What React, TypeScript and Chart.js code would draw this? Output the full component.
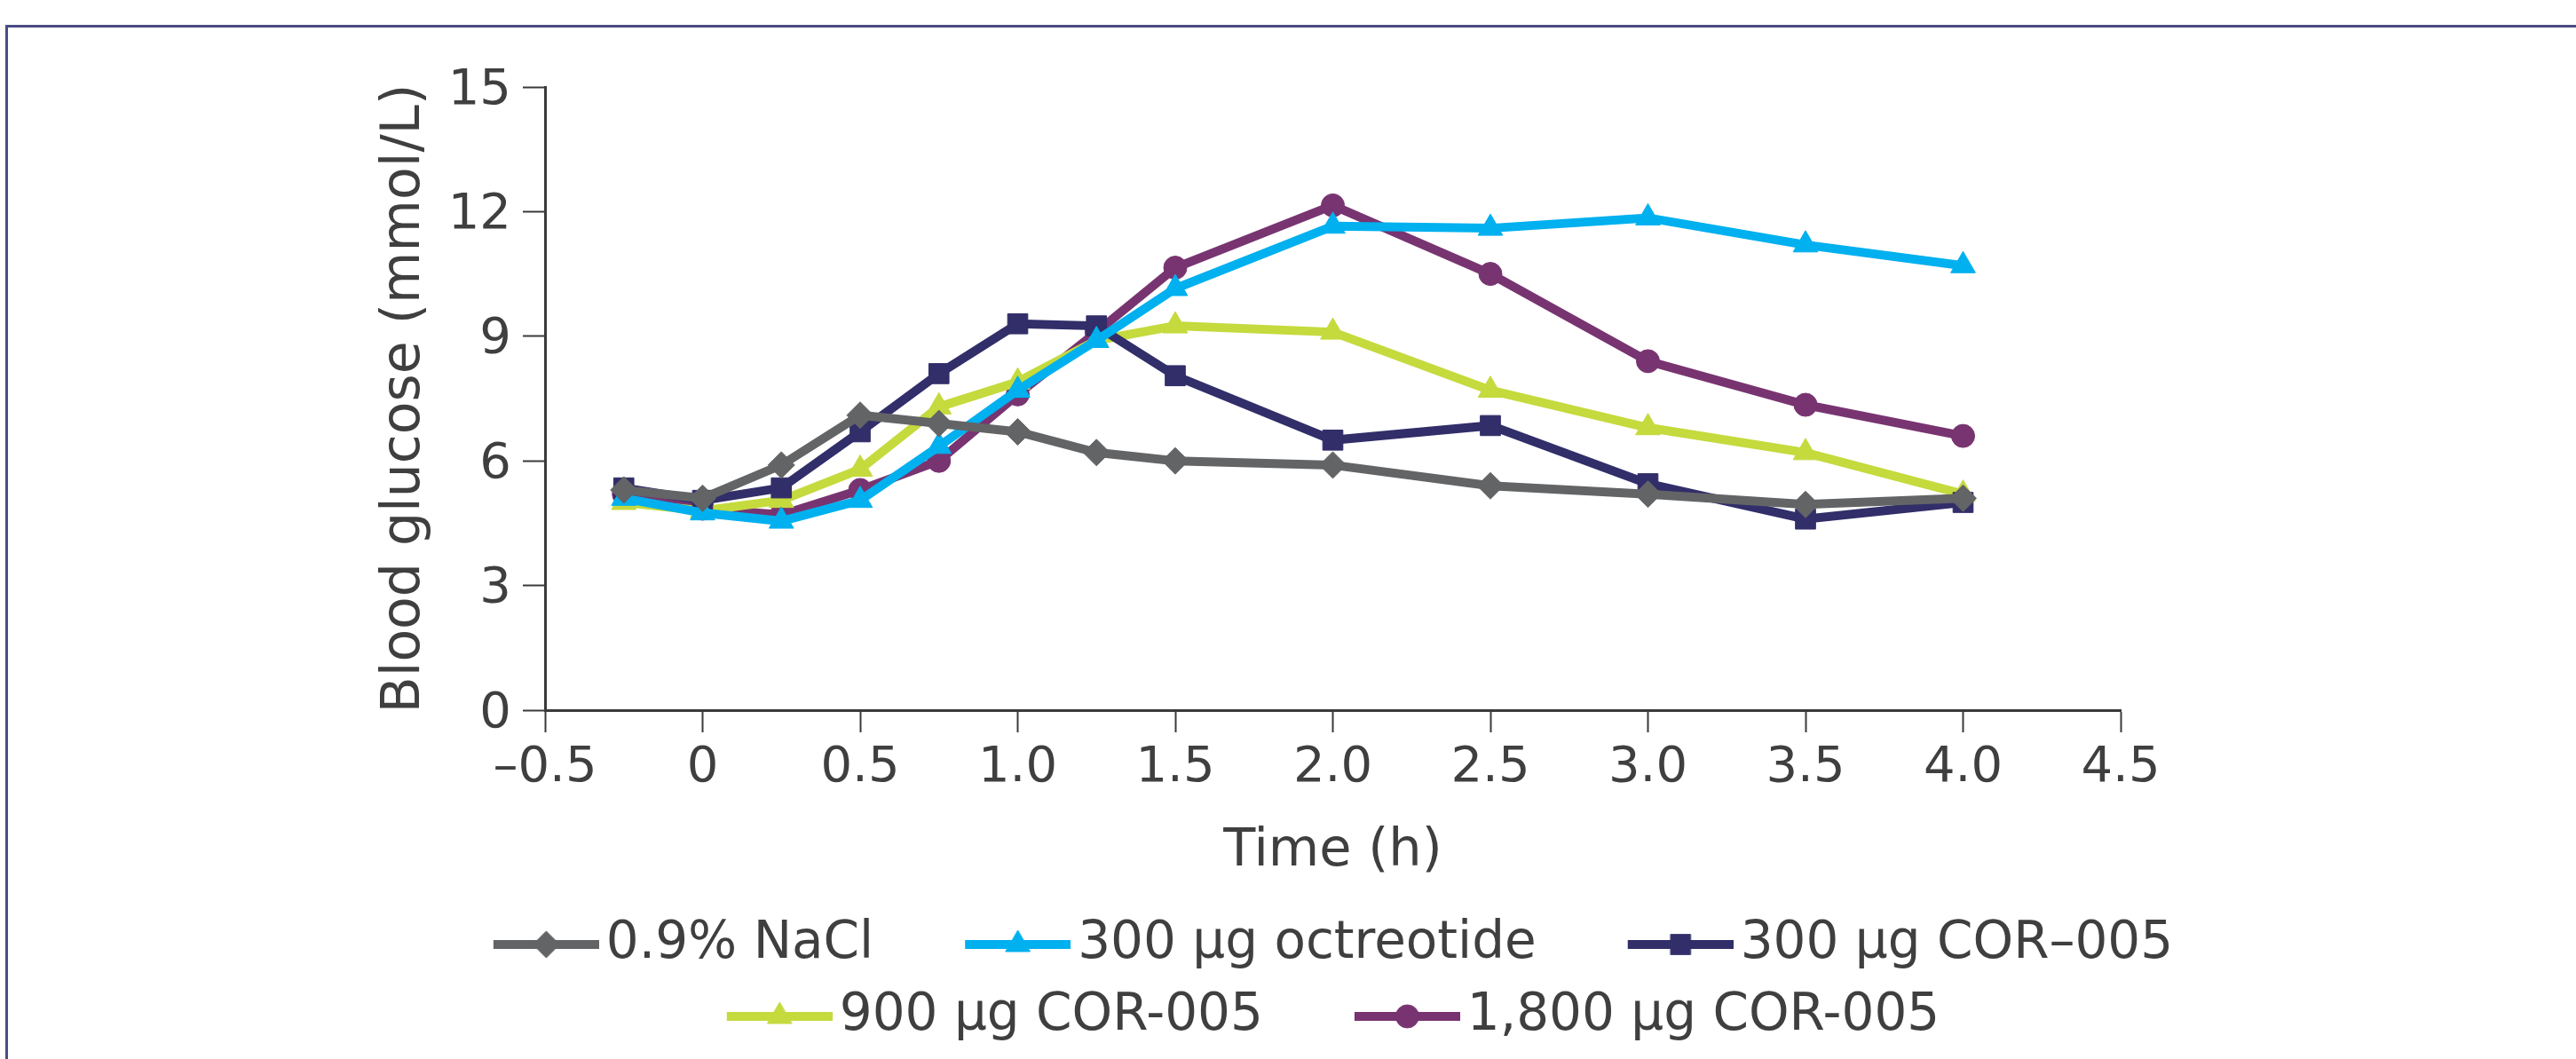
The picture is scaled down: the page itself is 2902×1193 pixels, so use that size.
import React, { useEffect, useRef } from 'react';
import { Chart, registerables } from 'chart.js';

Chart.register(...registerables);

// ---- Data ----
const times = [-0.25, 0, 0.25, 0.5, 0.75, 1.0, 1.25, 1.5, 2.0, 2.5, 3.0, 3.5, 4.0];
const nacl = [5.3, 5.1, 5.9, 7.1, 6.9, 6.7, 6.2, 6.0, 5.9, 5.4, 5.2, 4.95, 5.1];
const octreotide = [5.1, 4.75, 4.55, 5.05, 6.35, 7.7, 8.9, 10.15, 11.65, 11.6, 11.85, 11.2, 10.7];
const cor300 = [5.35, 5.05, 5.35, 6.7, 8.1, 9.3, 9.25, 8.05, 6.5, 6.85, 5.45, 4.6, 5.0];
const cor900 = [5.0, 4.8, 5.05, 5.8, 7.3, 7.9, 8.9, 9.25, 9.1, 7.7, 6.8, 6.2, 5.2];
const cor1800 = [5.2, 4.85, 4.7, 5.3, 6.0, 7.6, 9.1, 10.65, 12.15, 10.5, 8.4, 7.35, 6.6];

const seriesLabels = ['0.9% NaCl', '300 µg octreotide', '300 µg COR–005', '900 µg COR-005', '1,800 µg COR-005'];
const xTickLabels = ['–0.5', '0', '0.5', '1.0', '1.5', '2.0', '2.5', '3.0', '3.5', '4.0', '4.5'];
const yTickLabels = ['0', '3', '6', '9', '12', '15'];
const xTitle = 'Time (h)';
const yTitle = 'Blood glucose (mmol/L)';

// ---- Styles ----
const FONT = "'DejaVu Sans', sans-serif";
const TEXT = '#3f3f3f';
const AXIS = '#3a3a3a';
const colors = ['#636466', '#00b0ef', '#312e69', '#c5da3d', '#783471'];
const styles = ['rectRot', 'triangle', 'rect', 'triangle', 'circle'];
const radii = [15, 16, 16, 16, 13];

const LEG_LEAD = 80; // transparent lead before line in each legend item
const LEG_LINE = 119;
const LEG_GAP = 8;
const LEG_FONT = 58;
const LEG_BOX = LEG_LEAD + LEG_LINE + LEG_GAP - LEG_FONT / 2;
const LEG_CENTER = 1502;

function drawShape(ctx: CanvasRenderingContext2D, style: string, r: number, x: number, y: number) {
  ctx.beginPath();
  if (style === 'circle') {
    ctx.arc(x, y, r, 0, Math.PI * 2);
  } else if (style === 'rect') {
    const s = r * Math.SQRT1_2;
    ctx.rect(x - s, y - s, 2 * s, 2 * s);
  } else if (style === 'rectRot') {
    ctx.moveTo(x - r, y);
    ctx.lineTo(x, y - r);
    ctx.lineTo(x + r, y);
    ctx.lineTo(x, y + r);
  } else if (style === 'triangle') {
    let rad = 0;
    ctx.moveTo(x + Math.sin(rad) * r, y - Math.cos(rad) * r);
    rad += (2 * Math.PI) / 3;
    ctx.lineTo(x + Math.sin(rad) * r, y - Math.cos(rad) * r);
    rad += (2 * Math.PI) / 3;
    ctx.lineTo(x + Math.sin(rad) * r, y - Math.cos(rad) * r);
  }
  ctx.closePath();
  ctx.fill();
  ctx.stroke();
}

function makeLegendImage(color: string, style: string, r: number): HTMLCanvasElement {
  const half = LEG_LEAD + LEG_LINE - LEG_BOX / 2;
  const W = Math.round(half * 2);
  const H = 44;
  const c = document.createElement('canvas');
  c.width = W;
  c.height = H;
  const ctx = c.getContext('2d')!;
  const x0 = W - LEG_LINE;
  ctx.strokeStyle = color;
  ctx.fillStyle = color;
  ctx.lineWidth = 10;
  ctx.beginPath();
  ctx.moveTo(x0, H / 2);
  ctx.lineTo(W, H / 2);
  ctx.stroke();
  ctx.lineWidth = 1;
  drawShape(ctx, style, r, x0 + LEG_LINE / 2, H / 2);
  return c;
}

const legendShift = {
  id: 'legendShift',
  afterLayout(chart: any) {
    const lg = chart.legend;
    if (!lg) return;
    const dx = LEG_CENTER - LEG_LEAD / 2 - (lg.left + lg.right) / 2;
    lg.left += dx;
    lg.right += dx;
  },
};

export default function App() {
  const ref = useRef<HTMLCanvasElement | null>(null);

  useEffect(() => {
    if (!ref.current) return;
    const seriesValues = [nacl, octreotide, cor300, cor900, cor1800];
    const images = seriesValues.map((_, i) => makeLegendImage(colors[i], styles[i], radii[i]));
    const datasets = seriesValues.map((vals, i) => ({
      label: seriesLabels[i],
      data: times.map((t, j) => ({ x: t, y: vals[j] })),
      borderColor: colors[i],
      backgroundColor: colors[i],
      borderWidth: 10,
      pointStyle: styles[i] as any,
      pointRadius: radii[i],
      pointBorderWidth: 1,
      pointBackgroundColor: colors[i],
      pointBorderColor: colors[i],
      tension: 0,
    }));

    const tickFont = { family: FONT, size: 56 };
    const titleFont = { family: FONT, size: 59 };
    const grid = {
      drawOnChartArea: false,
      drawTicks: true,
      tickLength: 25,
      tickWidth: 2,
      tickColor: AXIS,
      color: AXIS,
    };
    const border = { display: true, color: AXIS, width: 3 };

    const chart = new Chart(ref.current, {
      type: 'line',
      data: { datasets },
      plugins: [legendShift],
      options: {
        animation: false,
        responsive: false,
        devicePixelRatio: 1,
        layout: { padding: { left: 0, right: 513, top: 98, bottom: 9 } },
        scales: {
          x: {
            type: 'linear',
            min: -0.5,
            max: 4.5,
            ticks: {
              stepSize: 0.5,
              autoSkip: false,
              maxRotation: 0,
              padding: 7,
              font: tickFont,
              color: TEXT,
              callback: (_v: any, i: number) => xTickLabels[i],
            },
            grid,
            border,
            title: { display: true, text: xTitle, font: titleFont, color: TEXT, padding: { top: 0, bottom: 17 } },
            afterFit: (s: any) => {
              s.height = 212;
            },
          },
          y: {
            min: 0,
            max: 15,
            ticks: {
              stepSize: 3,
              padding: 13,
              labelOffset: 4,
              font: tickFont,
              color: TEXT,
              callback: (_v: any, i: number) => yTickLabels[i],
            },
            grid,
            border,
            title: { display: true, text: yTitle, font: { family: FONT, size: 60 }, color: TEXT, padding: { top: 420, bottom: 0 } },
            afterFit: (s: any) => {
              s.width = 614;
            },
          },
        },
        plugins: {
          tooltip: { enabled: false },
          legend: {
            display: true,
            position: 'bottom',
            labels: {
              usePointStyle: true,
              pointStyleWidth: LEG_BOX,
              padding: 23,
              font: { family: FONT, size: LEG_FONT },
              color: TEXT,
              generateLabels: (c: any) => {
                const items = (Chart.defaults.plugins.legend.labels as any).generateLabels(c);
                return items.map((it: any, i: number) => ({ ...it, pointStyle: images[i], fontColor: TEXT }));
              },
            },
          },
        },
      } as any,
    });
    return () => chart.destroy();
  }, []);

  return (
    <div style={{ position: 'absolute', left: 0, top: 0, width: 2902, height: 1193, background: '#fff', overflow: 'hidden' }}>
      <div
        style={{
          position: 'absolute',
          left: 6,
          top: 28,
          width: 2902,
          height: 1193,
          borderTop: '3px solid #4b4b85',
          borderLeft: '3px solid #4b4b85',
          boxSizing: 'border-box',
        }}
      />
      <canvas ref={ref} width={2902} height={1193} style={{ position: 'absolute', left: 0, top: 0, width: 2902, height: 1193 }} />
    </div>
  );
}
